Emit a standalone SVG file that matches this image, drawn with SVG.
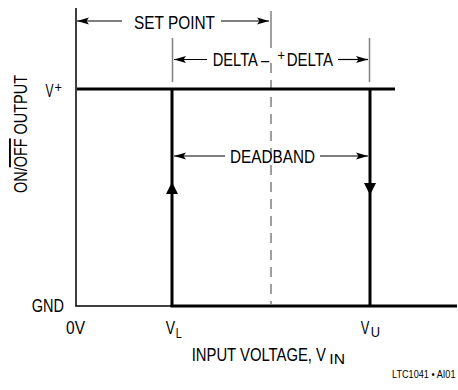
<svg xmlns="http://www.w3.org/2000/svg" width="458" height="390" viewBox="0 0 458 390">
  <style>
    .t { font-family: "Liberation Sans", Arial, sans-serif; font-size: 19px; fill: #000; }
    .s { font-family: "Liberation Sans", Arial, sans-serif; font-size: 14px; fill: #000; }
    .thin { stroke: #000; stroke-width: 1.5; fill: none; }
    .thick { stroke: #000; stroke-width: 3; fill: none; }
    .dim { stroke: #000; stroke-width: 1.2; fill: none; marker-end: url(#arr); }
    .gray { stroke: #808080; stroke-width: 1.5; fill: none; }
  </style>
  <defs>
    <marker id="arr" markerUnits="userSpaceOnUse" markerWidth="13" markerHeight="8" refX="12" refY="4" orient="auto" viewBox="0 0 13 8">
      <path d="M0,0.6 L12,4 L0,7.4 L2.5,4 z" fill="#000"/>
    </marker>
  </defs>
  <rect width="458" height="390" fill="#fff"/>

  <g id="axes">
    <path class="thin" d="M76,8 V306 H172"/>
  </g>

  <g id="guides">
    <path class="gray" d="M271,11 V48"/>
    <path class="gray" d="M271,63 V304" stroke-dasharray="10 7"/>
    <path class="gray" d="M172.5,38 V82"/>
    <path class="gray" d="M369.5,38 V82"/>
  </g>

  <g id="connectors">
    <path class="thick" d="M77,89 H395"/>
    <path class="thick" d="M172,89 V306"/>
    <path class="thick" d="M170.5,306 H457"/>
    <path class="thick" d="M370,89 V306"/>
    <path d="M172,182 L178,194 L166,194 z" fill="#000"/>
    <path d="M370,195 L376,183 L364,183 z" fill="#000"/>
    <path class="dim" d="M122,21 H77"/>
    <path class="dim" d="M221,21 H269"/>
    <path class="dim" d="M207,59.5 H174"/>
    <path class="dim" d="M338,59.5 H368"/>
    <path class="dim" d="M225,156 H174"/>
    <path class="dim" d="M320,156 H368"/>
  </g>

  <g id="labels">
    <text class="t" x="134" y="28.5" textLength="81" lengthAdjust="spacingAndGlyphs">SET POINT</text>
    <text class="t" x="212.7" y="66" textLength="56.6" lengthAdjust="spacingAndGlyphs">DELTA –</text>
    <text class="s" x="277.5" y="60" textLength="7.5" lengthAdjust="spacingAndGlyphs">+</text>
    <text class="t" x="286.7" y="66" textLength="46.3" lengthAdjust="spacingAndGlyphs">DELTA</text>
    <text class="t" x="230" y="163" textLength="85" lengthAdjust="spacingAndGlyphs">DEADBAND</text>
    <text class="t" x="45.5" y="97" textLength="8" lengthAdjust="spacingAndGlyphs">V</text>
    <text class="s" x="54.5" y="92" textLength="7.5" lengthAdjust="spacingAndGlyphs">+</text>
    <text class="t" x="31.7" y="312" textLength="32.3" lengthAdjust="spacingAndGlyphs">GND</text>
    <text class="t" x="66" y="334" textLength="19" lengthAdjust="spacingAndGlyphs">0V</text>
    <text class="t" x="165.7" y="334" textLength="9.3" lengthAdjust="spacingAndGlyphs">V</text>
    <text class="s" x="175.7" y="337.5" textLength="6" lengthAdjust="spacingAndGlyphs">L</text>
    <text class="t" x="360.7" y="334" textLength="8.6" lengthAdjust="spacingAndGlyphs">V</text>
    <text class="s" x="370.7" y="337.3" textLength="9.3" lengthAdjust="spacingAndGlyphs">U</text>
    <text class="t" x="191.7" y="360.7" textLength="134.3" lengthAdjust="spacingAndGlyphs">INPUT VOLTAGE, V</text>
    <text class="s" x="329.3" y="364" textLength="15.7" lengthAdjust="spacingAndGlyphs">IN</text>
    <text x="392" y="377.5" font-family="Liberation Sans, Arial, sans-serif" font-size="10.5" textLength="63.5" lengthAdjust="spacingAndGlyphs">LTC1041 • AI01</text>
    <text class="t" transform="translate(27,193) rotate(-90)" x="0" y="0" textLength="118" lengthAdjust="spacingAndGlyphs">ON/<tspan text-decoration="overline">OFF</tspan> OUTPUT</text>
  </g>
</svg>
